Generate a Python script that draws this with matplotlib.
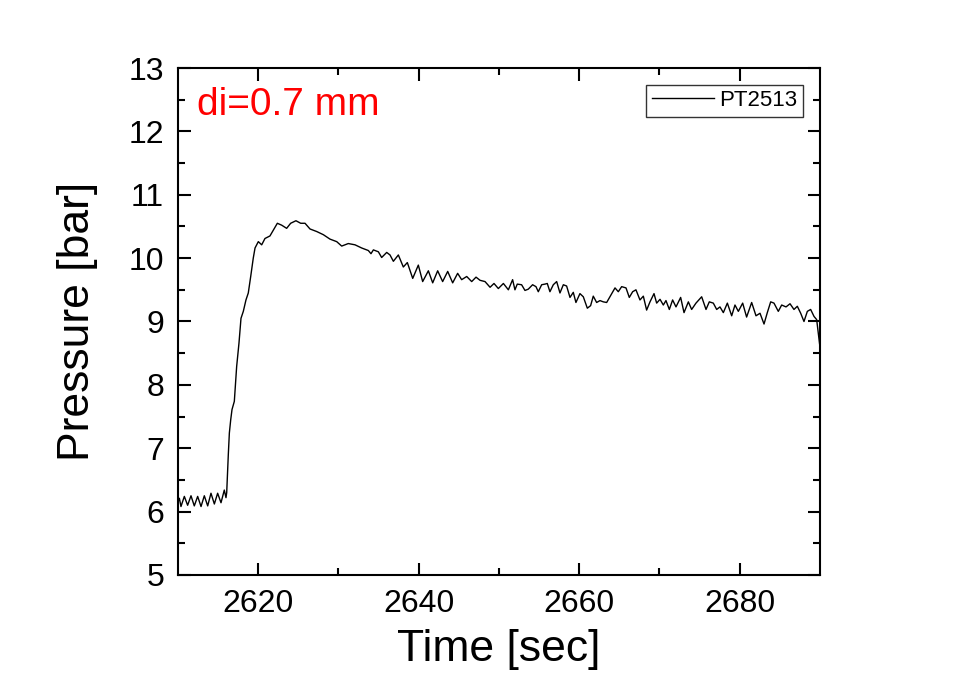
import numpy as np
from matplotlib import pyplot as plt

# Time [sec] and pressure [bar]
time = [2610.0, 2610.17, 2610.37, 2610.79, 2611.2, 2611.62, 2612.03, 2612.45, 2612.87,
        2613.28, 2613.7, 2614.11, 2614.53, 2614.94, 2615.36, 2615.77, 2615.98, 2616.07,
        2616.19, 2616.27, 2616.4, 2616.57, 2616.73, 2617.02, 2617.31, 2617.6, 2617.85,
        2618.14, 2618.47, 2618.76, 2619.06, 2619.38, 2619.6, 2620.01, 2620.43, 2620.84,
        2621.46, 2621.88, 2622.38, 2622.92, 2623.54, 2624.04, 2624.7, 2625.29, 2625.83,
        2626.45, 2627.28, 2628.11, 2628.94, 2629.78, 2630.4, 2631.22, 2632.06, 2632.89,
        2633.72, 2634.05, 2634.35, 2634.97, 2635.38, 2636.01, 2636.42, 2636.84, 2637.46,
        2638.08, 2638.58, 2639.25, 2639.95, 2640.49, 2641.2, 2641.74, 2642.36, 2642.98,
        2643.61, 2644.23, 2644.85, 2645.35, 2645.98, 2646.6, 2647.14, 2647.64, 2648.26,
        2648.89, 2649.38, 2649.92, 2650.55, 2651.17, 2651.7, 2651.99, 2652.28, 2652.82,
        2653.24, 2653.65, 2654.19, 2654.61, 2654.9, 2655.32, 2655.73, 2656.02, 2656.35,
        2656.77, 2657.19, 2657.6, 2658.02, 2658.43, 2658.85, 2659.26, 2659.59, 2660.09,
        2660.51, 2661.01, 2661.42, 2661.75, 2662.17, 2662.59, 2663.0, 2663.42, 2663.83,
        2664.46, 2664.87, 2665.29, 2665.83, 2666.24, 2666.66, 2667.07, 2667.57, 2667.99,
        2668.4, 2668.82, 2669.32, 2669.65, 2670.07, 2670.48, 2670.81, 2671.23, 2671.64,
        2672.06, 2672.64, 2673.06, 2673.6, 2674.01, 2674.55, 2675.26, 2675.8, 2676.21,
        2676.71, 2677.13, 2677.54, 2677.96, 2678.46, 2679.0, 2679.41, 2679.83, 2680.37,
        2680.86, 2681.49, 2682.03, 2682.53, 2683.03, 2683.44, 2683.86, 2684.27, 2684.81,
        2685.23, 2685.77, 2686.27, 2686.76, 2687.18, 2687.6, 2688.01, 2688.43, 2688.84,
        2689.26, 2689.59, 2689.95]
pressure = [6.15, 6.21, 6.08, 6.24, 6.10, 6.25, 6.09, 6.24, 6.08,
            6.25, 6.09, 6.29, 6.12, 6.29, 6.14, 6.34, 6.22, 6.30,
            6.66, 6.90, 7.24, 7.45, 7.61, 7.74, 8.29, 8.66, 9.05,
            9.16, 9.34, 9.45, 9.71, 10.00, 10.16, 10.26, 10.21, 10.31,
            10.35, 10.44, 10.55, 10.52, 10.47, 10.55, 10.59, 10.55, 10.55,
            10.46, 10.42, 10.37, 10.30, 10.26, 10.19, 10.23, 10.21, 10.16,
            10.12, 10.07, 10.13, 10.10, 10.01, 10.09, 10.05, 9.95, 10.05,
            9.86, 9.93, 9.68, 9.89, 9.63, 9.80, 9.61, 9.80, 9.63,
            9.79, 9.61, 9.76, 9.66, 9.71, 9.63, 9.70, 9.65, 9.63,
            9.54, 9.60, 9.52, 9.60, 9.50, 9.66, 9.50, 9.59, 9.58,
            9.49, 9.51, 9.58, 9.55, 9.47, 9.58, 9.59, 9.60, 9.47,
            9.58, 9.63, 9.45, 9.58, 9.56, 9.38, 9.46, 9.30, 9.44,
            9.39, 9.21, 9.25, 9.40, 9.30, 9.33, 9.31, 9.30, 9.39,
            9.53, 9.47, 9.55, 9.53, 9.38, 9.47, 9.50, 9.34, 9.40,
            9.18, 9.31, 9.44, 9.29, 9.35, 9.26, 9.33, 9.19, 9.34,
            9.23, 9.38, 9.14, 9.31, 9.19, 9.29, 9.39, 9.19, 9.31,
            9.29, 9.19, 9.23, 9.14, 9.29, 9.09, 9.26, 9.16, 9.29,
            9.07, 9.30, 9.09, 9.13, 8.96, 9.14, 9.31, 9.29, 9.16,
            9.26, 9.23, 9.28, 9.19, 9.24, 9.13, 9.00, 9.16, 9.19,
            9.08, 9.03, 8.65]

x_ticks = [2620, 2640, 2660, 2680]
y_ticks = [5, 6, 7, 8, 9, 10, 11, 12, 13]

plt.rcParams['font.family'] = ['Liberation Sans', 'DejaVu Sans']

fig = plt.figure(figsize=(9.58, 6.94), dpi=100)
ax = fig.add_axes([0.1858, 0.1715, 0.6701, 0.7305])

ax.plot(time, pressure, color='black', linewidth=1.0, label='PT2513')

ax.set_xlim(2610, 2690)
ax.set_ylim(5, 13)
ax.set_xticks(x_ticks)
ax.set_yticks(y_ticks)
ax.set_xticks([2630, 2650, 2670], minor=True)
ax.set_yticks(np.arange(5.5, 13, 1.0), minor=True)

ax.tick_params(which='both', direction='in', top=True, right=True, width=1.5)
ax.tick_params(which='major', length=9, labelsize=23, pad=10)
ax.tick_params(which='minor', length=5)
for s in ax.spines.values():
    s.set_linewidth(1.5)

ax.set_xlabel('Time [sec]', fontsize=32, labelpad=7)
ax.set_ylabel('Pressure [bar]', fontsize=32, labelpad=22)

ax.text(0.03, 0.927, 'di=0.7 mm', color='red', fontsize=28,
        transform=ax.transAxes, va='center', ha='left')

leg = ax.legend(loc='upper right', fontsize=16, frameon=True, fancybox=False,
                edgecolor='black', handlelength=2.8, borderaxespad=0.75,
                borderpad=0.25, handletextpad=0.25)
leg.get_frame().set_linewidth(1.0)

fig.savefig('out.png', dpi=100)
